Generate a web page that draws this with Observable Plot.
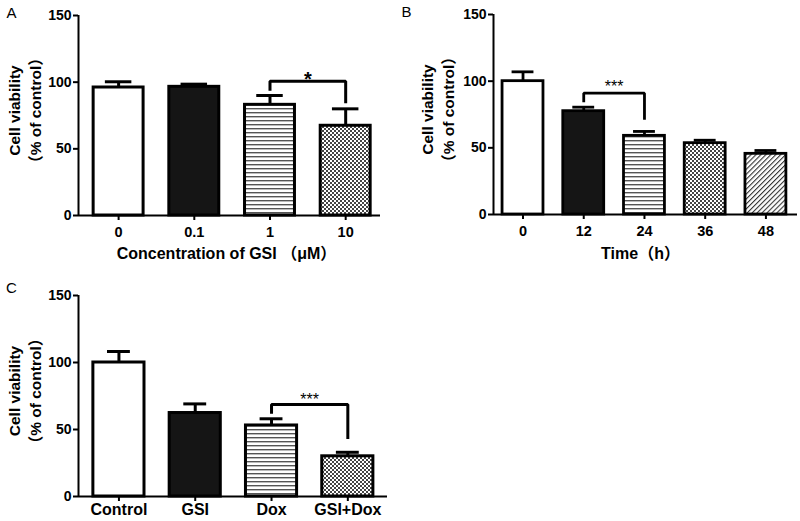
<!DOCTYPE html>
<html><head><meta charset="utf-8">
<script src="https://cdn.jsdelivr.net/npm/d3@7"></script>
<script src="https://cdn.jsdelivr.net/npm/@observablehq/plot@0.6"></script>
<style>
body{margin:0;background:#fff;}
#wrap{position:relative;width:800px;height:521px;overflow:hidden;background:#fff;}
#wrap > div{position:absolute;}
</style></head>
<body>
<svg width="0" height="0" style="position:absolute">
<defs>
<pattern id="hstripe" patternUnits="userSpaceOnUse" width="4" height="4">
<rect width="4" height="4" fill="#fff"/><rect y="0" width="4" height="1.4" fill="#555"/>
</pattern>
<pattern id="checker" patternUnits="userSpaceOnUse" width="4" height="4">
<rect width="4" height="4" fill="#fff"/><rect width="2" height="2" fill="#444"/><rect x="2" y="2" width="2" height="2" fill="#444"/>
</pattern>
<pattern id="diag" patternUnits="userSpaceOnUse" width="3.5" height="3.5" patternTransform="rotate(45)">
<rect width="3.5" height="3.5" fill="#fff"/><rect width="1.1" height="3.5" fill="#333"/>
</pattern>
</defs></svg>
<div id="wrap"></div>
<script>
// ---- Data ----
const catsA = ["0", "0.1", "1", "10"];
const meanA = [96, 96.5, 83, 67.3];
const errA  = [4.3, 2, 7, 12.7];
const sigA  = {pair: ["1", "10"], level: 100.7, ends: [93.5, 84.2], label: "*"};

const catsB = ["0", "12", "24", "36", "48"];
const meanB = [100, 77.5, 59, 53.5, 45.5];
const errB  = [7, 3, 3.3, 2.2, 2.5];
const sigB  = {pair: ["12", "24"], level: 91, ends: [84.2, 71], label: "***"};

const catsC = ["Control", "GSI", "Dox", "GSI+Dox"];
const meanC = [100, 62.3, 53, 30];
const errC  = [8.2, 6.8, 5, 3];
const sigC  = {pair: ["Dox", "GSI+Dox"], level: 68.7, ends: [61.7, 43], label: "***"};

const yTicks = [0, 50, 100, 150];
const yTitle1 = "Cell viability";
const yTitle2 = "（% of control）";

// ---- Styles ----
const H = "url(#hstripe)", K = "url(#checker)", D = "url(#diag)";
const fillsA = ["#fff", "#151515", H, K];
const fillsB = ["#fff", "#151515", H, K, D];
const fillsC = ["#fff", "#151515", H, K];
const FONT = "'Liberation Sans', Arial, 'Noto Sans CJK SC', sans-serif";

function panel(o) {
  const data = o.cats.map((c, i) => ({i, c, m: o.mean[i], e: o.err[i], f: o.fills[i]}));
  const fi = o.cats.indexOf(o.sig.pair[0]), ti = o.cats.indexOf(o.sig.pair[1]);
  const bracket = [
    {x: fi, y: o.sig.ends[0]}, {x: fi, y: o.sig.level},
    {x: ti, y: o.sig.level}, {x: ti, y: o.sig.ends[1]}
  ];
  const marks = [
    Plot.rect(data, {x1: d => d.i - o.half, x2: d => d.i + o.half, y1: () => 0, y2: "m",
      fill: "f", stroke: "#000", strokeWidth: o.sw}),
    Plot.ruleX(data, {x: "i", y1: "m", y2: d => d.m + d.e, stroke: "#000", strokeWidth: o.sw}),
    Plot.ruleY(data, {y: d => d.m + d.e, x1: d => d.i - o.cap, x2: d => d.i + o.cap, stroke: "#000", strokeWidth: o.sw}),
    Plot.line(bracket, {x: "x", y: "y", stroke: "#000", strokeWidth: o.sw, strokeLinejoin: "miter", strokeLinecap: "butt"}),
    Plot.text([o.sig.label], {x: () => (fi + ti) / 2, y: () => o.sig.level, text: d => d,
      fontSize: o.starSize, fontWeight: o.starWeight, dy: o.starDy, lineAnchor: "middle", fill: "#000"}),
    Plot.ruleX([o.xDomain[0]], {y1: () => 0, y2: () => 150, stroke: "#000", strokeWidth: 2}),
    Plot.ruleY([0], {stroke: "#000", strokeWidth: 2}),
    Plot.axisY({ticks: yTicks, tickSize: 5, tickPadding: 2, fontSize: 14, fontWeight: "bold", strokeWidth: 2, label: null}),
    Plot.axisX({ticks: d3.range(o.cats.length), tickFormat: i => o.cats[i], tickSize: 5, tickPadding: o.xPad,
      fontSize: o.xFont, fontWeight: "bold", strokeWidth: 2, label: null}),
    Plot.text([yTitle1], {frameAnchor: "left", rotate: -90, dx: o.yT1, dy: o.yTdy, fontSize: 15.5, fontWeight: "bold",
      lineAnchor: "middle", textAnchor: "middle", fill: "#000"}),
    Plot.text([yTitle2], {frameAnchor: "left", rotate: -90, dx: o.yT2, dy: o.yTdy, fontSize: 15.5, fontWeight: "bold",
      lineAnchor: "middle", textAnchor: "middle", fill: "#000"}),
    Plot.text([o.letter], {frameAnchor: "top-left", dx: o.lDx, dy: o.lDy, fontSize: 15, lineAnchor: "middle", textAnchor: "middle", fill: "#000"})
  ];
  if (o.xTitle) marks.push(Plot.text([o.xTitle], {frameAnchor: "bottom", dx: o.xTdx, dy: o.xTdy,
    fontSize: 16, fontWeight: "bold", lineAnchor: "middle", textAnchor: "middle", fill: "#000"}));
  const svg = Plot.plot({
    width: o.width, height: o.height,
    marginTop: o.m[0], marginRight: o.m[1], marginBottom: o.m[2], marginLeft: o.m[3],
    x: {type: "linear", domain: o.xDomain, axis: null},
    y: {domain: [0, 150], axis: null},
    color: {type: "identity"},
    style: {fontFamily: FONT, fontSize: "13px", color: "#000", background: "transparent", overflow: "visible"},
    marks
  });
  const div = document.createElement("div");
  div.style.left = o.left + "px";
  div.style.top = o.top + "px";
  div.appendChild(svg);
  document.getElementById("wrap").appendChild(div);
}

panel({cats: catsA, mean: meanA, err: errA, fills: fillsA, sig: sigA,
  left: 0, top: 0, width: 390, height: 265, m: [15, 10, 50, 78],
  xDomain: [-0.53, 3.46], half: 0.33, cap: 0.175, sw: 3,
  xFont: 14.5, xPad: 6, xTitle: "Concentration of GSI （μM）", xTdx: -3, xTdy: 38,
  yT1: -63, yT2: -42, yTdy: -5, letter: "A", lDx: -67, lDy: -2,
  starSize: 20, starWeight: "bold", starDy: -2});

panel({cats: catsB, mean: meanB, err: errB, fills: fillsB, sig: sigB,
  left: 400, top: 0, width: 400, height: 265, m: [14, 3, 51, 93],
  xDomain: [-0.486, 4.52], half: 0.337, cap: 0.18, sw: 2.8,
  xFont: 14.5, xPad: 6, xTitle: "Time（h）", xTdx: -5, xTdy: 39,
  yT1: -65, yT2: -44.5, yTdy: -5, letter: "B", lDx: -87, lDy: -2,
  starSize: 16, starWeight: "normal", starDy: -6});

panel({cats: catsC, mean: meanC, err: errC, fills: fillsC, sig: sigC,
  left: 0, top: 265, width: 400, height: 256, m: [30, 13, 25, 78],
  xDomain: [-0.53, 3.52], half: 0.335, cap: 0.15, sw: 3,
  xFont: 16, xPad: 2, xTitle: null,
  yT1: -63, yT2: -42, yTdy: -5, letter: "C", lDx: -67, lDy: -7,
  starSize: 16, starWeight: "normal", starDy: -5});
</script>
</body></html>
